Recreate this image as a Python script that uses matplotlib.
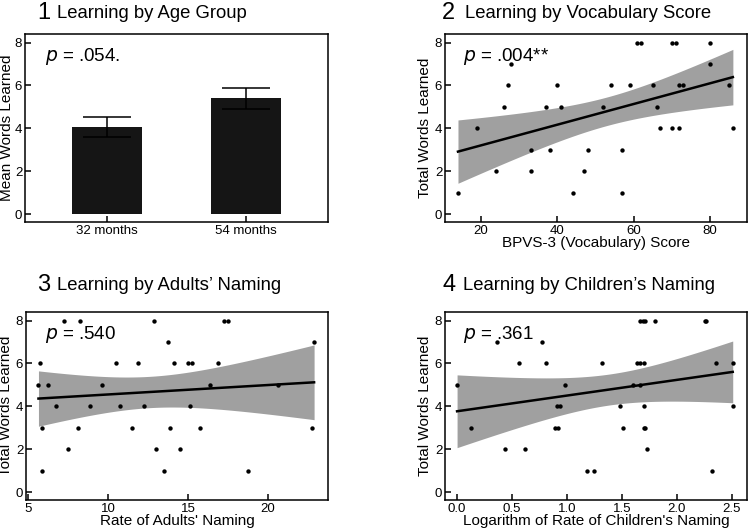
import numpy as np
import matplotlib
matplotlib.use("Agg")
import matplotlib.pyplot as plt

plt.rcParams["font.family"] = ["Liberation Sans", "DejaVu Sans"]

# Panel 1: mean words learned by age group
age_groups = ["32 months", "54 months"]
age_means = [4.05, 5.40]
age_errors = [0.47, 0.48]

# Panel 2: vocabulary score vs total words learned
vocab_score = [14, 19, 24, 26, 27, 28, 33, 33, 37, 38, 40, 41, 44, 47, 48, 52, 54,
               57, 57, 59, 61, 62, 65, 66, 67, 70, 70, 71, 72, 72, 73, 80, 80, 85, 86]
vocab_words = [1, 4, 2, 5, 6, 7, 3, 2, 5, 3, 6, 5, 1, 2, 3, 5, 6,
               3, 1, 6, 8, 8, 6, 5, 4, 4, 8, 8, 4, 6, 6, 8, 7, 6, 4]

# Panel 3: rate of adults' naming vs total words learned
adult_rate = [5.63, 5.75, 5.88, 5.88, 6.25, 6.75, 7.25, 7.5, 8.13, 8.25, 8.85, 9.63,
              10.5, 10.75, 11.5, 11.88, 12.25, 12.88, 13.0, 13.5, 13.75, 13.88, 14.13,
              14.5, 15.0, 15.13, 15.25, 15.75, 16.38, 16.88, 17.25, 17.5, 18.75, 20.63,
              22.75, 22.88]
adult_words = [5, 6, 3, 1, 5, 4, 8, 2, 3, 8, 4, 5,
               6, 4, 3, 6, 4, 8, 2, 1, 7, 3, 6,
               2, 6, 4, 6, 3, 5, 6, 8, 8, 1, 5,
               3, 7]

# Panel 4: log rate of children's naming vs total words learned
child_lograte = [0.0, 0.13, 0.36, 0.44, 0.56, 0.62, 0.77, 0.81, 0.89, 0.92, 0.91, 0.94,
                 0.98, 1.18, 1.25, 1.32, 1.48, 1.51, 1.60, 1.64, 1.67, 1.67, 1.67, 1.69,
                 1.70, 1.70, 1.70, 1.71, 1.71, 1.73, 1.80, 2.26, 2.27, 2.32, 2.36, 2.51,
                 2.51]
child_words = [5, 3, 7, 2, 6, 2, 7, 6, 3, 3, 4, 4,
               5, 1, 1, 6, 4, 3, 5, 6, 6, 5, 8, 8,
               4, 6, 3, 3, 8, 2, 8, 8, 8, 1, 6, 6,
               4]

BAND = "#a0a0a0"
W, H = 750, 532


def px_axes(left, top, width, height):
    return [left / W, 1 - (top + height) / H, width / W, height / H]


def style(ax):
    for s in ax.spines.values():
        s.set_linewidth(1.1)
        s.set_color("black")
    ax.tick_params(direction="in", length=4, width=1.1, labelsize=9.5, pad=2)
    ax.set_ylim(-0.37, 8.4)
    ax.set_yticks([0, 2, 4, 6, 8])


def labels(ax, xlabel, ylabel, wpx, hpx):
    ax.set_xlabel(xlabel, fontsize=11, va="center")
    ax.xaxis.set_label_coords(0.5, -21 / hpx)
    ax.set_ylabel(ylabel, fontsize=11, va="center")
    ax.yaxis.set_label_coords(-20 / wpx, 0.5)


def reg_panel(ax, x, y):
    x = np.asarray(x, float)
    y = np.asarray(y, float)
    n = len(x)
    b, a = np.polyfit(x, y, 1)
    xs = np.linspace(x.min(), x.max(), 100)
    yfit = a + b * xs
    resid = y - (a + b * x)
    s = np.sqrt(np.sum(resid ** 2) / (n - 2))
    sxx = np.sum((x - x.mean()) ** 2)
    se = s * np.sqrt(1 / n + (xs - x.mean()) ** 2 / sxx)
    t = 2.03
    ax.fill_between(xs, yfit - t * se, yfit + t * se, color=BAND, lw=0, zorder=1)
    ax.plot(xs, yfit, color="black", lw=1.8, zorder=3)
    ax.scatter(x, y, s=10, color="black", lw=0, zorder=4)


fig = plt.figure(figsize=(7.5, 5.32), dpi=100)

# Panel 1
ax1 = fig.add_axes(px_axes(25, 34, 303, 188))
xpos = np.arange(len(age_groups))
ax1.bar(xpos, age_means, width=0.5, color="#151515", zorder=2)
ax1.errorbar(xpos, age_means, yerr=age_errors, fmt="none", ecolor="black",
             elinewidth=1.1, capsize=17, capthick=1.1, zorder=3)
ax1.set_xlim(-0.59, 1.59)
ax1.set_xticks(xpos)
ax1.set_xticklabels(age_groups)
style(ax1)
ax1.set_ylabel("Mean Words Learned", fontsize=11, va="center")
ax1.yaxis.set_label_coords(-18 / 303, 0.5)
ax1.text(20 / 303, 0.88, r"$\it{p}$ = .054.", transform=ax1.transAxes,
         fontsize=13.5, va="center")

# Panel 2
ax2 = fig.add_axes(px_axes(445, 34, 302, 188))
reg_panel(ax2, vocab_score, vocab_words)
ax2.set_xlim(10.6, 89.7)
ax2.set_xticks([20, 40, 60, 80])
style(ax2)
labels(ax2, "BPVS-3 (Vocabulary) Score", "Total Words Learned", 302, 188)
ax2.text(18 / 302, 0.88, r"$\it{p}$ = .004**", transform=ax2.transAxes,
         fontsize=13.5, va="center")

# Panel 3
ax3 = fig.add_axes(px_axes(26, 312, 302, 188))
reg_panel(ax3, adult_rate, adult_words)
ax3.set_xlim(4.85, 23.75)
ax3.set_xticks([5, 10, 15, 20])
style(ax3)
labels(ax3, "Rate of Adults' Naming", "Total Words Learned", 302, 188)
ax3.text(19 / 302, 0.88, r"$\it{p}$ = .540", transform=ax3.transAxes,
         fontsize=13.5, va="center")

# Panel 4
ax4 = fig.add_axes(px_axes(445, 312, 302, 188))
reg_panel(ax4, child_lograte, child_words)
ax4.set_xlim(-0.11, 2.64)
ax4.set_xticks([0.0, 0.5, 1.0, 1.5, 2.0, 2.5])
ax4.set_xticklabels(["0.0", "0.5", "1.0", "1.5", "2.0", "2.5"])
style(ax4)
labels(ax4, "Logarithm of Rate of Children's Naming", "Total Words Learned", 302, 188)
ax4.text(18 / 302, 0.88, r"$\it{p}$ = .361", transform=ax4.transAxes,
         fontsize=13.5, va="center")

# Panel titles
titles = [("1", "Learning by Age Group", 37, 57, 13),
          ("2", "Learning by Vocabulary Score", 442, 465, 13),
          ("3", "Learning by Adults\u2019 Naming", 37, 57, 285),
          ("4", "Learning by Children\u2019s Naming", 442, 463, 285)]
for num, txt, xn, xt, yc in titles:
    fig.text(xn / W, 1 - yc / H, num, fontsize=17, ha="left", va="center")
    fig.text(xt / W, 1 - yc / H, txt, fontsize=13.3, ha="left", va="center")

fig.savefig("out.png", dpi=100)
